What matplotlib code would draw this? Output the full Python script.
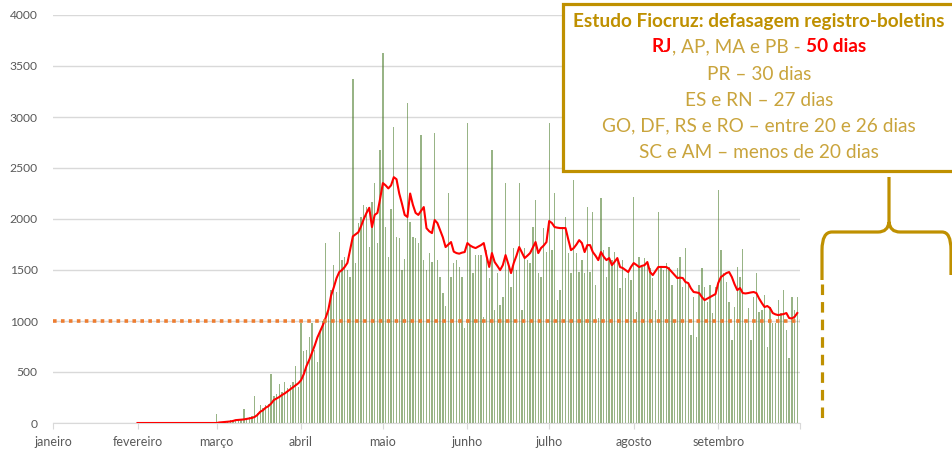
import numpy as np
import pandas as pd
import matplotlib
matplotlib.use("Agg")
from matplotlib import pyplot as plt
from matplotlib.patches import Rectangle, PathPatch
from matplotlib.path import Path

plt.rcParams['font.family'] = ['Lato', 'DejaVu Sans']

# registros diarios (barras), de 1 de marco a 30 de setembro
mar = [90, 5, 10, 15, 10, 25, 30, 20, 35, 40, 137, 50, 60, 70, 265, 100, 176, 150,
       180, 190, 480, 260, 280, 380, 300, 400, 340, 370, 400, 560, 350]
abr = [980, 705, 715, 843, 980, 720, 600, 890, 1000, 1764, 1150, 1303, 1548, 1280,
       1872, 1597, 1627, 1500, 1430, 3371, 1568, 1960, 2019, 2136, 2117, 1725, 2166,
       2352, 1764, 2675]
mai = [3626, 1921, 1627, 2100, 2901, 1823, 1813, 1500, 1607, 3136, 1970, 1823, 1813,
       1764, 2822, 1597, 1500, 1666, 1578, 2842, 1597, 1431, 1274, 1150, 2254, 1431,
       1568, 1597, 1529, 1431, 931]
jun = [2940, 1744, 1470, 1646, 1646, 1646, 1039, 1695, 1421, 2675, 1107, 1470, 1156,
       1235, 2352, 1568, 1333, 1715, 1499, 2352, 1107, 1715, 1597, 1568, 1921, 2185,
       1470, 1431, 1911, 1676]
jul = [2940, 1695, 2254, 1205, 1303, 1921, 2019, 1666, 1470, 2381, 1666, 1480, 1597,
       1470, 2117, 1480, 2068, 1352, 1029, 2205, 1695, 1431, 1725, 1597, 1676, 1617,
       1323, 1597, 1421, 1499, 1401]
ago = [2215, 1088, 1627, 1529, 1617, 1548, 1519, 1421, 1107, 2068, 1519, 1499, 1568,
       1529, 1352, 1009, 1519, 1627, 1333, 1715, 1352, 862, 1235, 843, 1352, 1519,
       1333, 1186, 1352, 1078, 1333]
set_ = [2283, 1695, 1470, 1382, 1186, 813, 1137, 1529, 1431, 1705, 980, 1127, 813,
        1235, 1470, 1088, 1107, 1254, 745, 1137, 980, 980, 1205, 1078, 1303, 911, 637,
        1235, 1107, 1235]

# media movel (linha vermelha), de 1 de fevereiro a 30 de setembro
m_fev = [0, 0, 0, 0, 0, 0, 0, 0, 0, 0, 0, 0, 0, 0, 0, 0, 0, 0, 0, 0, 0, 0, 0, 0, 0,
         0, 0, 0, 0]
m_mar = [0, 5, 8, 10, 12, 15, 20, 28, 30, 32, 35, 40, 45, 50, 60, 80, 110, 125, 150,
         165, 190, 225, 240, 255, 275, 290, 310, 330, 350, 370, 390]
m_abr = [420, 480, 560, 620, 690, 760, 840, 900, 960, 1030, 1110, 1250, 1330, 1420,
         1480, 1500, 1530, 1570, 1700, 1830, 1850, 1870, 1930, 2000, 2060, 2110, 1921,
         2040, 2060, 2200]
m_mai = [2352, 2330, 2300, 2330, 2410, 2390, 2250, 2150, 2040, 2020, 2250, 2140, 2060,
         2040, 2080, 2117, 1910, 1880, 1862, 1990, 1960, 1890, 1820, 1725, 1750, 1774,
         1680, 1666, 1660, 1670, 1676]
m_jun = [1764, 1740, 1725, 1715, 1730, 1744, 1764, 1640, 1530, 1666, 1578, 1540, 1499,
         1548, 1646, 1560, 1470, 1568, 1640, 1725, 1670, 1617, 1640, 1666, 1720, 1774,
         1666, 1715, 1740, 1774]
m_jul = [1980, 1960, 1921, 1915, 1911, 1911, 1911, 1800, 1695, 1715, 1750, 1793, 1764,
         1676, 1744, 1744, 1676, 1640, 1597, 1676, 1630, 1597, 1617, 1548, 1580, 1617,
         1529, 1519, 1500, 1480, 1530]
m_ago = [1568, 1550, 1529, 1540, 1548, 1578, 1480, 1450, 1490, 1529, 1530, 1529, 1529,
         1510, 1480, 1450, 1421, 1425, 1421, 1382, 1372, 1320, 1284, 1280, 1274, 1235,
         1205, 1220, 1235, 1250, 1264]
m_set = [1372, 1431, 1450, 1470, 1480, 1431, 1360, 1303, 1323, 1274, 1270, 1274, 1280,
         1284, 1274, 1220, 1176, 1137, 1147, 1127, 1078, 1065, 1058, 1063, 1068, 1078,
         1029, 1025, 1040, 1078]

limite = 1000
meses = ['janeiro', 'fevereiro', 'março', 'abril', 'maio', 'junho', 'julho',
         'agosto', 'setembro']

# (texto, cor, peso, espaco depois)
caixa = [
    [('Estudo Fiocruz: defasagem registro-boletins', '#bf9000', 'bold', 0)],
    [('RJ', '#ff0000', 'bold', 0), (', AP, MA e PB -', '#c9a43c', 'normal', 1),
     ('50 dias', '#ff0000', 'bold', 0)],
    [('PR – 30 dias', '#c9a43c', 'normal', 0)],
    [('ES e RN – 27 dias', '#c9a43c', 'normal', 0)],
    [('GO, DF, RS e RO – entre 20 e 26 dias', '#c9a43c', 'normal', 0)],
    [('SC e AM – menos de 20 dias', '#c9a43c', 'normal', 0)],
]

barras = mar + abr + mai + jun + jul + ago + set_
media = m_fev + m_mar + m_abr + m_mai + m_jun + m_jul + m_ago + m_set
d_barras = pd.date_range('2020-03-01', periods=len(barras), freq='D')
d_media = pd.date_range('2020-02-01', periods=len(media), freq='D')
inicio_mes = pd.date_range('2020-01-01', '2020-10-01', freq='MS')

W, H = 952, 454
fig = plt.figure(figsize=(W / 100, H / 100), dpi=100)
ax = fig.add_axes([53 / W, 1 - 423 / H, 747 / W, 408 / H])

ax.bar(d_barras, barras, width=0.5, color='#548235', alpha=0.6, zorder=2)
ax.plot(d_media, media, color='#ff0000', lw=1.5, zorder=3)
ax.axhline(limite, color='#ed7d31', lw=2.6, ls=(0, (1, 1.2)), zorder=4)

ax.set_ylim(0, 4000)
ax.set_xlim(inicio_mes[0], inicio_mes[-1])
ax.set_yticks(range(0, 4001, 500))
ax.set_xticks(inicio_mes)
ax.set_xticklabels(meses + [''])
ax.grid(axis='y', color='#d9d9d9', lw=1)
ax.set_axisbelow(True)
for s in ['top', 'right', 'left']:
    ax.spines[s].set_visible(False)
ax.spines['bottom'].set_color('#d9d9d9')
ax.tick_params(axis='y', length=0, pad=11, labelsize=8.7, labelcolor='#595959')
ax.tick_params(axis='x', length=4, color='#d9d9d9', pad=5, labelsize=9,
               labelcolor='#595959')

# camada em pixels para a caixa de texto e a chave
ov = fig.add_axes([0, 0, 1, 1], zorder=5)
ov.set_xlim(0, W)
ov.set_ylim(H, 0)
ov.axis('off')
ov.patch.set_alpha(0)

ov.add_patch(Rectangle((563, 4), 420, 167, facecolor='white', edgecolor='#bf9000',
                       lw=2.3, clip_on=False))

tam = 13.7
ys = [22, 47, 74, 100, 126, 152]
espaco = tam * 100 / 72 * 0.25
fig.canvas.draw()
r = fig.canvas.get_renderer()
for y, partes in zip(ys, caixa):
    txts = [ov.text(0, y, s, color=c, fontsize=tam, fontweight=p, va='center',
                    ha='left') for s, c, p, e in partes]
    larg = [t.get_window_extent(r).width for t in txts]
    total = sum(larg) + espaco * sum(e for s, c, p, e in partes)
    x = 759 - total / 2
    for t, w, parte in zip(txts, larg, partes):
        t.set_x(x)
        x += w + espaco * parte[3]

# chave
cor = '#bf9000'
verts = [(822, 280), (822, 250), (822, 232), (832, 232), (878, 232), (888, 232),
         (889, 222), (889, 177), (889, 222), (890, 232), (900, 232), (942, 232),
         (951, 232), (951, 250), (951, 275)]
codes = [Path.MOVETO, Path.LINETO, Path.CURVE3, Path.CURVE3, Path.LINETO,
         Path.CURVE3, Path.CURVE3, Path.LINETO, Path.MOVETO, Path.CURVE3, Path.CURVE3,
         Path.LINETO, Path.CURVE3, Path.CURVE3, Path.LINETO]
ov.add_patch(PathPatch(Path(verts, codes), facecolor='none', edgecolor=cor, lw=2.3,
                       clip_on=False))
ov.plot([822, 822], [284, 423], color=cor, lw=2.3, ls=(0, (3.3, 2.2)))

fig.savefig('out.png', dpi=100)
